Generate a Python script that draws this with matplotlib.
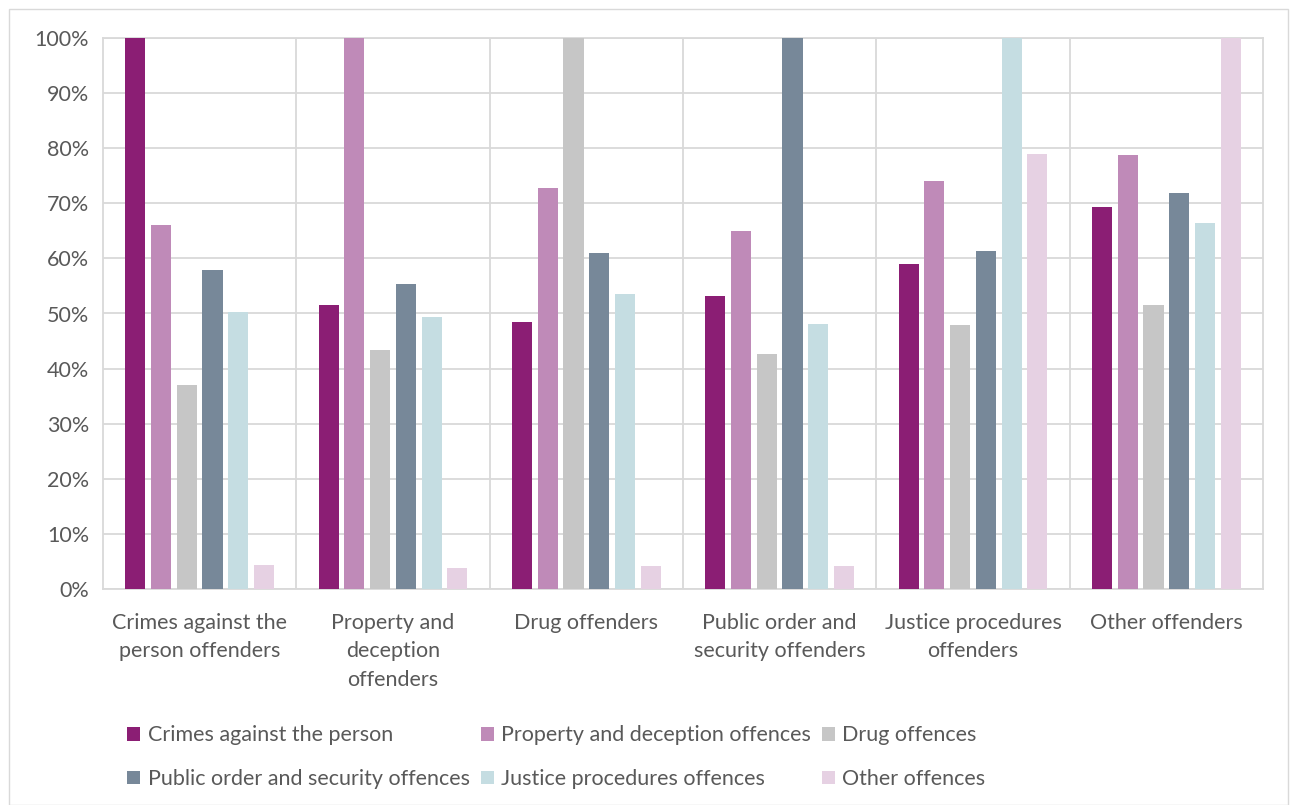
import matplotlib
matplotlib.use("Agg")
import matplotlib.pyplot as plt
import numpy as np
from matplotlib.patches import Rectangle

categories = ["Crimes against the\nperson offenders", "Property and\ndeception\noffenders",
              "Drug offenders", "Public order and\nsecurity offenders",
              "Justice procedures\noffenders", "Other offenders"]
series_names = ["Crimes against the person", "Property and deception offences", "Drug offences",
                "Public order and security offences", "Justice procedures offences", "Other offences"]
crimes_person = [100, 51.6, 48.4, 53.1, 58.9, 69.4]
property_dec = [66.0, 100, 72.7, 65.0, 74.0, 78.8]
drug = [37.0, 43.4, 100, 42.7, 47.9, 51.6]
public_order = [57.9, 55.3, 60.9, 100, 61.3, 71.8]
justice = [50.3, 49.4, 53.5, 48.1, 100, 66.4]
other = [4.4, 3.9, 4.2, 4.2, 78.9, 100]
colors = ["#8B1E74", "#BF8AB8", "#C6C6C6", "#778899", "#C5DDE2", "#E6D1E3"]

plt.rcParams['font.family'] = ['Lato', 'DejaVu Sans']
txt = "#595959"
grid = "#D9D9D9"
fs = 15.5

fig = plt.figure(figsize=(12.98, 8.05), dpi=100)
ax = fig.add_axes([103/1298, 1-589/805, (1263-103)/1298, (589-38)/805])

data = [crimes_person, property_dec, drug, public_order, justice, other]
x = np.arange(len(categories))
spacing = 0.133
width = 0.104
handles = []
for i, (vals, c, name) in enumerate(zip(data, colors, series_names)):
    h = ax.bar(x + (i - 2.5) * spacing, vals, width=width, color=c, label=name, zorder=3)
    handles.append(h)

ax.set_xlim(-0.5, len(categories) - 0.5)
ax.set_ylim(0, 100)
ax.set_yticks(np.arange(0, 101, 10))
ax.set_yticklabels([f"{v}%" for v in range(0, 101, 10)], color=txt, fontsize=fs)
ax.set_xticks(x)
ax.set_xticklabels(categories, color=txt, fontsize=fs, linespacing=1.55)
ax.tick_params(axis='y', length=0, pad=10)
ax.tick_params(axis='x', length=0, pad=17)
ax.yaxis.grid(True, color=grid, lw=1.3, zorder=0)
for b in np.arange(0.5, len(categories) - 0.5, 1):
    ax.axvline(b, color=grid, lw=1.3, zorder=0)
for s in ax.spines.values():
    s.set_color(grid)
    s.set_linewidth(1.3)

order = [0, 3, 1, 4, 2, 5]
leg = fig.legend([handles[i] for i in order], [series_names[i] for i in order],
                 loc='upper left', bbox_to_anchor=(108/1298, 1-706/805), ncol=3, frameon=False,
                 fontsize=fs, handlelength=0.6, handleheight=0.6, handletextpad=0.35,
                 columnspacing=0.5, labelspacing=1.1)
for t in leg.get_texts():
    t.set_color(txt)

fig.patches.append(Rectangle((9/1298, 0), 1279/1298, 1-9/805, transform=fig.transFigure,
                             fill=False, edgecolor=grid, lw=1))
fig.savefig("out.png", dpi=100, facecolor="white")
